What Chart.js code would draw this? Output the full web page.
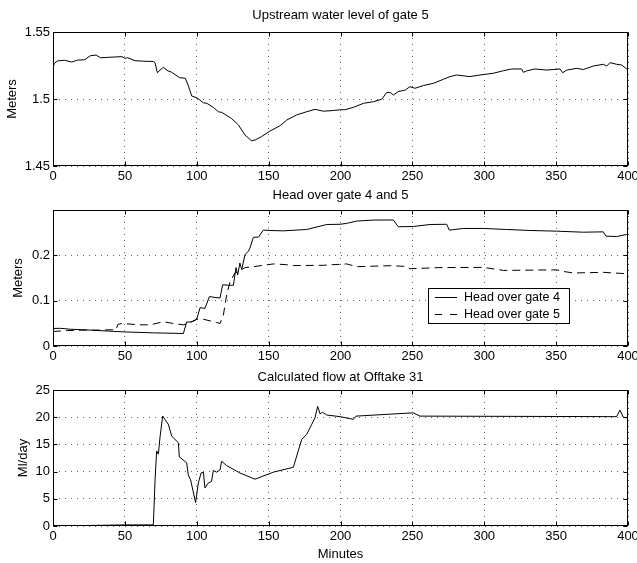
<!DOCTYPE html>
<html>
<head>
<meta charset="utf-8">
<script src="https://cdn.jsdelivr.net/npm/chart.js@4.4.1/dist/chart.umd.min.js"></script>
<style>
html,body{margin:0;padding:0;background:#fff;}
#wrap{position:relative;width:637px;height:563px;overflow:hidden;background:#fff;}
.pane{position:absolute;left:0;width:637px;}
canvas{display:block;}
</style>
</head>
<body>
<div id="wrap">
  <div class="pane" style="top:0px;height:190px"><canvas id="c1" width="637" height="190"></canvas></div>
  <div class="pane" style="top:180px;height:190px"><canvas id="c2" width="637" height="190"></canvas></div>
  <div class="pane" style="top:360px;height:203px"><canvas id="c3" width="637" height="203"></canvas></div>
</div>
<script>
// ---------------- data ----------------
const xTicks = [0, 50, 100, 150, 200, 250, 300, 350, 400];

const levelTicks = [1.45, 1.5, 1.55];
const levelTickLabels = ['1.45', '1.5', '1.55'];
const levelX = [0,1,3,8,13,17,22,26,30,33,37,42,48,50,52,57,63,70,71,72.6,74.5,76.8,80,82.5,88,92,94,96.5,100,104.6,107,111.5,115,117.4,124,129,133.6,138,140.6,145,151,158,162.6,169.5,176.5,182.3,188,195,200,203,209,216,223,228.7,232,234.5,236.8,240.2,245,248.3,251.8,257.6,264.6,271.5,276.2,280.8,290,297,306.3,313.3,319,326,327.2,329.5,335.3,343.4,352.7,354.6,357.4,364.3,369,375.9,382.8,385.2,387.5,392.1,395.6,399,400];
const levelY = [1.524,1.5266,1.5284,1.5289,1.5276,1.529,1.5293,1.5323,1.5328,1.5308,1.531,1.5313,1.5316,1.5303,1.5308,1.5286,1.5282,1.528,1.527,1.5196,1.5216,1.5236,1.521,1.520,1.5159,1.5155,1.5104,1.5022,1.501,1.4972,1.4968,1.4938,1.4905,1.490,1.4856,1.4806,1.4731,1.4689,1.4694,1.4719,1.4761,1.4801,1.4843,1.4881,1.4905,1.4923,1.4909,1.4914,1.492,1.492,1.4938,1.4968,1.498,1.4998,1.5047,1.505,1.503,1.5055,1.5067,1.5092,1.508,1.51,1.5117,1.5147,1.5167,1.5179,1.5167,1.5179,1.5192,1.5211,1.5224,1.5224,1.5199,1.521,1.5224,1.5216,1.5224,1.5196,1.5216,1.5229,1.522,1.5246,1.5259,1.5246,1.5271,1.5259,1.5254,1.5224,1.522];

const headTicks = [0, 0.1, 0.2, 0.3];
const headTickLabels = ['0', '0.1', '0.2', ''];
const head4X = [0,5,12,20,50,70,90.7,93,96.5,100,102.3,105.7,108.8,112.7,116.2,118,122,125.5,127.3,128.5,130,131.3,133.6,135.9,137,139.4,142.9,146.3,150.9,160.2,176.5,190.4,199.7,204.3,211.3,222.8,236.7,240.2,250.6,262.3,273.9,275.7,285.4,299.3,315.6,331.8,350.4,368.9,382.8,384.7,392.1,399.1,400];
const head4Y = [0.0387,0.039,0.037,0.036,0.031,0.029,0.0276,0.053,0.053,0.059,0.0845,0.083,0.109,0.107,0.106,0.135,0.134,0.134,0.173,0.157,0.183,0.169,0.2015,0.209,0.216,0.24,0.24,0.2556,0.2548,0.254,0.257,0.268,0.2685,0.2705,0.2756,0.2778,0.278,0.263,0.2637,0.268,0.2685,0.2556,0.2593,0.2593,0.257,0.2548,0.2533,0.251,0.2518,0.2423,0.2415,0.246,0.246];
const head5X = [0,10,20,30,44,45,48,60.5,67.5,72,76.8,83.7,90.7,94.1,100,104.6,113.8,116.2,118.5,120.8,123.2,126.6,130,133.6,139.4,153.3,161.4,167.2,188,192.7,204.3,211.3,234.5,246,248.3,269.2,299.3,313.3,350.4,355,362,382.8,399.1,400];
const head5Y = [0.032,0.034,0.035,0.035,0.036,0.0475,0.0497,0.0467,0.0467,0.05,0.0534,0.0497,0.0467,0.05,0.059,0.059,0.052,0.0497,0.068,0.1126,0.142,0.161,0.166,0.173,0.175,0.181,0.1796,0.1774,0.178,0.179,0.181,0.175,0.1771,0.1756,0.1704,0.173,0.1734,0.1667,0.168,0.1645,0.161,0.1625,0.1594,0.159];

const flowTicks = [0, 5, 10, 15, 20, 25];
const flowTickLabels = ['0', '5', '10', '15', '20', '25'];
const flowX = [0,50,69.8,71,72.1,73.3,74.4,76.3,80.2,82.6,87.2,87.9,93,94.1,95.7,99.2,101.1,103,104.6,105.7,108,110.3,111.5,113.8,116.2,117.3,120.8,130,140.5,153.3,167.2,170.6,173,176.5,180,182.3,184.1,185.8,187.5,190.4,199.7,209,210.8,250.6,255.3,392.1,394.4,396.7,399.1,400];
const flowY = [0,0.2,0.2,8.5,13.8,13.2,16.2,20.2,18.7,16.5,15.3,12.7,11.6,9.4,8.5,4.3,7.9,9.75,9.9,7.0,7.9,8.2,10.2,9.9,10.3,11.9,11.1,9.75,8.6,9.9,10.8,13.8,15.9,16.85,18.7,19.9,22.0,20.6,20.9,20.4,20.1,19.6,20.2,20.8,20.2,20.1,21.3,20.0,19.9,19.9];

// ---------------- helpers ----------------
const FONT = "'Liberation Sans', Arial, Helvetica, sans-serif";
const GRID = 'rgba(0,0,0,0.6)';
const zip = (xs, ys) => xs.map((x, i) => ({x: x, y: ys[i]}));

const frame = {
  id: 'frame',
  afterDatasetsDraw(chart) {
    const {ctx, chartArea: a, scales} = chart;
    const L = Math.round(a.left) + 0.5, R = Math.round(a.right) - 0.5;
    const T = Math.round(a.top) + 0.5, B = Math.round(a.bottom) - 0.5;
    ctx.save();
    ctx.strokeStyle = '#000';
    ctx.lineWidth = 1;
    ctx.setLineDash([]);
    ctx.strokeRect(L, T, R - L, B - T);
    const k = 4;
    ctx.beginPath();
    scales.x.ticks.forEach(t => {
      const p = Math.round(scales.x.getPixelForValue(t.value)) + 0.5;
      ctx.moveTo(p, B); ctx.lineTo(p, B - k);
      ctx.moveTo(p, T); ctx.lineTo(p, T + k);
    });
    scales.y.ticks.forEach(t => {
      const p = Math.round(scales.y.getPixelForValue(t.value)) + 0.5;
      ctx.moveTo(L, p); ctx.lineTo(L + k, p);
      ctx.moveTo(R, p); ctx.lineTo(R - k, p);
    });
    ctx.stroke();
    ctx.restore();
  }
};

const boxLegend = {
  id: 'boxLegend',
  afterDraw(chart) {
    const a = chart.chartArea, ctx = chart.ctx;
    const Lx = Math.round(a.right - 200), Ty = Math.round(a.top + 78), W = 141, H = 35;
    ctx.save();
    ctx.fillStyle = '#fff';
    ctx.fillRect(Lx, Ty, W, H);
    ctx.strokeStyle = '#000';
    ctx.lineWidth = 1;
    ctx.strokeRect(Lx + 0.5, Ty + 0.5, W, H);
    chart.data.datasets.forEach((ds, i) => {
      const y = Math.round(Ty + 9 + i * 16.5) + 0.5;
      ctx.setLineDash(ds.borderDash && ds.borderDash.length ? [7, 8] : []);
      ctx.beginPath();
      ctx.moveTo(Lx + 7, y); ctx.lineTo(Lx + 29, y);
      ctx.stroke();
      ctx.setLineDash([]);
      ctx.fillStyle = '#000';
      ctx.font = '12.5px ' + FONT;
      ctx.textBaseline = 'middle';
      ctx.textAlign = 'left';
      ctx.fillText(ds.label, Lx + 36, y);
    });
    ctx.restore();
  }
};

function build(id, o) {
  const f = {family: FONT, size: 13};
  return new Chart(document.getElementById(id), {
    type: 'line',
    data: {datasets: o.datasets},
    options: {
      responsive: false,
      animation: false,
      events: [],
      layout: {padding: {left: 0, right: 9, top: 0, bottom: 0}},
      plugins: {
        legend: {display: false},
        tooltip: {enabled: false},
        title: {display: true, text: o.title, color: '#000', fullSize: false,
                font: {family: FONT, size: 13, weight: 'normal'}, padding: o.titlePad}
      },
      scales: {
        x: {
          type: 'linear', min: 0, max: 400,
          afterBuildTicks: s => { s.ticks = xTicks.map(v => ({value: v})); },
          afterFit: s => { s.height = o.xH; s.paddingLeft = 0; s.paddingRight = 0; },
          ticks: {color: '#000', font: f, padding: 3, maxRotation: 0, autoSkip: false,
                  callback: (v) => String(v)},
          grid: {color: GRID, drawTicks: false, lineWidth: 1},
          border: {display: false, dash: [1, 5]},
          title: o.xTitle ? {display: true, text: o.xTitle, color: '#000', font: f,
                             padding: {top: 0, bottom: 1.2}} : {display: false}
        },
        y: {
          type: 'linear', min: o.yMin, max: o.yMax,
          afterBuildTicks: s => { s.ticks = o.yTicks.map(v => ({value: v})); },
          afterFit: s => { s.width = 53; s.paddingTop = 0; s.paddingBottom = 0; },
          ticks: {color: '#000', font: f, padding: 3, autoSkip: false,
                  callback: (v, i) => o.yLabels[i]},
          grid: {color: GRID, drawTicks: false, lineWidth: 1},
          border: {display: false, dash: [1, 5]},
          title: {display: true, text: o.yTitle, color: '#000', font: f,
                  padding: {top: o.yTitlePad, bottom: 0}}
        }
      }
    },
    plugins: o.plugins
  });
}

const lineStyle = {borderColor: '#000', borderWidth: 1, pointRadius: 0, tension: 0, fill: false};

build('c1', {
  title: 'Upstream water level of gate 5',
  titlePad: {top: 7.2, bottom: 9.2},
  xH: 24,
  yMin: 1.45, yMax: 1.55, yTicks: levelTicks, yLabels: levelTickLabels,
  yTitle: 'Meters', yTitlePad: 4.2,
  datasets: [Object.assign({label: 'Upstream water level of gate 5', data: zip(levelX, levelY)}, lineStyle)],
  plugins: [frame]
});

build('c2', {
  title: 'Head over gate 4 and 5',
  titlePad: {top: 7.2, bottom: 7.2},
  xH: 24,
  yMin: 0, yMax: 0.3, yTicks: headTicks, yLabels: headTickLabels,
  yTitle: 'Meters', yTitlePad: 10.2,
  datasets: [
    Object.assign({label: 'Head over gate 4', data: zip(head4X, head4Y)}, lineStyle),
    Object.assign({label: 'Head over gate 5', data: zip(head5X, head5Y), borderDash: [8, 5]}, lineStyle)
  ],
  plugins: [frame, boxLegend]
});

build('c3', {
  title: 'Calculated flow at Offtake 31',
  titlePad: {top: 9.2, bottom: 5.2},
  xH: 37, xTitle: 'Minutes',
  yMin: 0, yMax: 25, yTicks: flowTicks, yLabels: flowTickLabels,
  yTitle: 'Ml/day', yTitlePad: 15.2,
  datasets: [Object.assign({label: 'Calculated flow at Offtake 31', data: zip(flowX, flowY)}, lineStyle)],
  plugins: [frame]
});
</script>
</body>
</html>
